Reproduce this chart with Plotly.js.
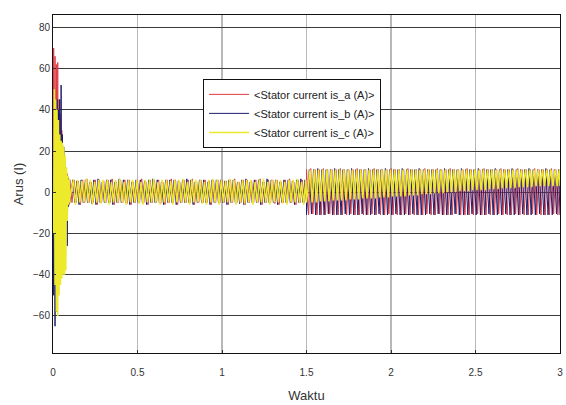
<!DOCTYPE html>
<html>
<head>
<meta charset="utf-8">
<script src="https://cdn.plot.ly/plotly-3.0.1.min.js"></script>
<style>html,body{margin:0;padding:0;background:#fff;}#chart{width:566px;height:405px;}</style>
</head>
<body>
<div id="chart"></div>
<script>
// ---- Data ----
// Segment time spans (s)
const startupSpan = [0, 0.1];
const lightLoadSpan = [0.1, 1.5];
const heavyLoadSpan = [1.5, 3.0];
// Phase lag of each phase's samples, as a fraction of one sample step
const phaseLag = [0, 1/3, 2/3];

const seriesNames = ['&lt;Stator current is_a (A)&gt;', '&lt;Stator current is_b (A)&gt;', '&lt;Stator current is_c (A)&gt;'];

// Startup transient (0 - 0.1 s)
const aStartup = [0, 70, -30, 66, -45, 62, -40, 63, -35, 45, -30, 38, -25, 30, -20, 22, -15, 18, -12, 12, -9, 9, -7, 7, -6, 6];
const bStartup = [0, -50, 40, -65, 30, -58, 45, -50, 40, -45, 45, -38, 52, -30, 28, -26, 22, -24, 15, -18, 8, -26, 7, -7, 6, -5];
const cStartup = [0, -20, 50, -45, 45, -58, 40, -60, 35, -50, 28, -45, 25, -42, 24, -40, 22, -40, 18, -38, 12, -14, 8, -6, 6, -5];

// Light load (0.1 - 1.5 s) peaks
const aLight = [
  6,-5,6,-5,5.5,-6,6,-5,6.5,-5,
  5,-5,6,-6,6,-5,5.5,-5,6,-5,
  6.5,-6,5,-5,6,-5,6,-5.5,6,-6,
  5,-5,6,-5,6.5,-5,5,-6,6,-5,
  6,-5,6,-5.5,5,-6,6,-5,6.5,-5,
  6,-6,5,-5,6,-5,6,-5,6.5,-6,
  5,-5,6,-5,6,-5,5.5,-6,6,-5,
  6,-5,6,-5,5.5,-6,6,-5,6.5,-5,
  5,-5,6,-6,6,-5,5.5,-5,6,-5,
  6.5,-6,5,-5,6,-5,6,-5.5,6,-6,
  5,-5,6,-5,6.5,-5,5,-6,6,-5,
  6,-5,6];
const bLight = [
  -5,6,-5,5.5,-6,6,-5,6,-5,5,
  -5.5,6,-6,6.5,-5,5,-5,6,-5,6,
  -6,5,-5,6.5,-5,6,-5,6,-6,5,
  -5,6,-5,6,-5,5.5,-6,6,-5,6.5,
  -5,6,-5,5,-6,6,-5,6,-5,6,
  -6,5.5,-5,6,-5,6.5,-5,6,-6,5,
  -5,6,-5,6,-5,5,-6,6,-5,6,
  -5,6,-5,5.5,-6,6,-5,6,-5,5,
  -5.5,6,-6,6.5,-5,5,-5,6,-5,6,
  -6,5,-5,6.5,-5,6,-5,6,-6,5,
  -5,6,-5,6,-5,5.5,-6,6,-5,6.5,
  -5,6,-5];
const cLight = [
  -3,6,-6,6,-5,5.5,-5,6.5,-5,6,
  -6,5,-5,6,-5.5,6,-5,6,-6,5,
  -5,6,-5,6.5,-5,5,-6,6,-5,6,
  -5,6,-5.5,5,-6,6,-5,6,-5,6.5,
  -5,5,-6,6,-5,6,-5,5.5,-6,6,
  -5,6,-5,6.5,-5,5,-6,6,-5,6,
  -5,6,-5.5,5,-6,6,-5,6.5,-5,6,
  -6,6,-5,5.5,-5,6.5,-5,6,-6,5,
  -5,6,-5.5,6,-5,6,-6,5,-5,6,
  -5,6.5,-5,5,-6,6,-5,6,-5,6,
  -5.5,5,-6,6,-5,6,-5,6.5,-5,5,
  -6,6,-5];

// Heavier load (1.5 - 3 s) peaks
const aHeavy = [
  11,-11,11.5,-10.5,11,-11,11,-11,11.5,-11,
  11,-10.5,11,-11,11,-11,11.5,-11,11,-11,
  11,-10.5,11,-11,11.5,-11,11,-11,11,-11,
  11,-10.5,11.5,-11,11,-11,11,-11,11,-10.5,
  11.5,-11,11,-11,11,-11,11,-10.5,11.5,-11,
  11,-11,11,-11,11,-11,11.5,-10.5,11,-11,
  11,-11,11.5,-10.5,11,-11,11,-11,11.5,-11,
  11,-10.5,11,-11,11,-11,11.5,-11,11,-11,
  11,-10.5,11,-11,11.5,-11,11,-11,11,-11,
  11,-10.5,11.5,-11,11,-11,11,-11,11,-10.5,
  11.5,-11,11,-11,11,-11,11,-10.5,11.5,-11,
  11,-11,11,-11,11,-11,11.5,-10.5,11,-11,
  11];
const bHeavy = [
  -11,11,-10.5,11,-11,11.5,-11,11,-11,11,
  -10.5,11,-11,11.5,-11,11,-11,11,-10.5,11,
  -11,11.5,-11,11,-11,11,-10.5,11,-11,11.5,
  -11,11,-11,11,-10.5,11,-11,11.5,-11,11,
  -11,11,-10.5,11,-11,11.5,-11,11,-11,11,
  -10.5,11,-11,11.5,-11,11,-11,11,-10.5,11,
  -11,11,-10.5,11,-11,11.5,-11,11,-11,11,
  -10.5,11,-11,11.5,-11,11,-11,11,-10.5,11,
  -11,11.5,-11,11,-11,11,-10.5,11,-11,11.5,
  -11,11,-11,11,-10.5,11,-11,11.5,-11,11,
  -11,11,-10.5,11,-11,11.5,-11,11,-11,11,
  -10.5,11,-11,11.5,-11,11,-11,11,-10.5,11,
  -11];
const cHeavy = [
  -5,11,-5,11,-5,11,-4.5,11,-4.5,11,
  -4.5,11,-4,11,-4,11,-4,11,-4,11,
  -3.5,11,-3.5,11,-3.5,11,-3,11,-3,11,
  -3,11,-3,11,-2.5,11,-2.5,11,-2.5,11,
  -2,11,-2,11,-2,11,-2,11,-1.5,11,
  -1.5,11,-1.5,11,-1,11,-1,11,-1,11,
  -0.5,11,-0.5,11,-0.5,11,0,11,0,11,
  0,11,0.5,11,0.5,11,0.5,11,1,11,
  1,11,1,11,1,11,1.5,11,1.5,11,
  1.5,11,2,11,2,11,2,11,2,11,
  2.5,11,2.5,11,2.5,11,2.5,11,3,11,
  3,11,3,11,3,11,3,11,3,11,
  3];

const colors = ['#e23a44', '#1e1e6e', '#ecea2a'];
const widths = [1, 1, 1.5];

// ---- Build traces ----
function segTimes(span, n, lagFrac) {
  const step = (span[1] - span[0]) / (n - 1);
  const out = [];
  for (let i = 0; i < n; i++) {
    out.push(span[0] + i * step + (i > 0 && i < n - 1 ? lagFrac * step : 0));
  }
  return out;
}
const sets = [[aStartup, aLight, aHeavy], [bStartup, bLight, bHeavy], [cStartup, cLight, cHeavy]];
const traces = sets.map((s, k) => {
  const x = [].concat(
    segTimes(startupSpan, s[0].length, 0),
    segTimes(lightLoadSpan, s[1].length, phaseLag[k]),
    segTimes(heavyLoadSpan, s[2].length, phaseLag[k])
  );
  const y = [].concat(s[0], s[1], s[2]);
  return {x: x, y: y, type: 'scatter', mode: 'lines', name: seriesNames[k],
          line: {color: colors[k], width: widths[k]}};
});

const fontFam = 'Arial, Liberation Sans, sans-serif';
const layout = {
  width: 566, height: 405,
  margin: {l: 53, r: 6, t: 15, b: 52},
  paper_bgcolor: '#fff', plot_bgcolor: '#fff',
  showlegend: true,
  legend: {x: 0.296, y: 0.811, xanchor: 'left', yanchor: 'top', bgcolor: '#fff',
           bordercolor: '#111', borderwidth: 1, itemwidth: 40,
           font: {family: fontFam, size: 11, color: '#222'}},
  xaxis: {range: [0, 3], dtick: 0.5, tick0: 0, showgrid: true, gridcolor: '#b8b8b8', gridwidth: 1.5,
          zeroline: false, showline: true, linecolor: '#111', linewidth: 1, mirror: true,
          ticks: 'inside', ticklen: 3, tickcolor: '#333', automargin: false, ticklabelstandoff: 10,
          tickfont: {family: fontFam, size: 10, color: '#333'},
          title: {text: 'Waktu', standoff: 13, font: {family: fontFam, size: 13, color: '#333'}}},
  yaxis: {range: [-78, 86], dtick: 20, tick0: 0, showgrid: true, gridcolor: '#3a3a3a', gridwidth: 1,
          zeroline: false, showline: true, linecolor: '#111', linewidth: 1, mirror: true,
          ticks: 'inside', ticklen: 3, tickcolor: '#333', automargin: false,
          tickfont: {family: fontFam, size: 10, color: '#333'},
          title: {text: 'Arus (I)', standoff: 6, font: {family: fontFam, size: 13, color: '#333'}}}
};

Plotly.newPlot('chart', traces, layout, {staticPlot: true, displayModeBar: false});
</script>
</body>
</html>
